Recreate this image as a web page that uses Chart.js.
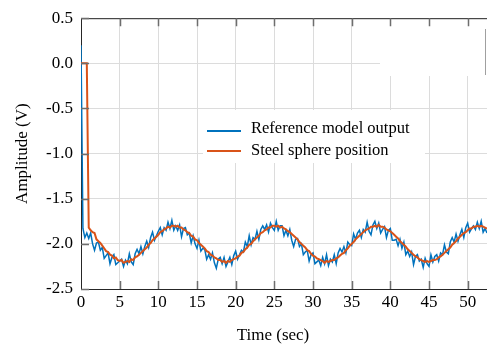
<!DOCTYPE html>
<html>
<head>
<meta charset="utf-8">
<script src="https://cdn.jsdelivr.net/npm/chart.js@4"></script>
<style>
  body { margin: 0; background: #fff; }
  canvas { display: block; }
</style>
</head>
<body>
<canvas id="grafica" width="487" height="348"></canvas>
<script>
// datos (muestreo cada 0.25 s)
const sampleStep = 0.25;
const seriesNames = ['Reference model output', 'Steel sphere position'];
const seriesColors = ['#0072BD', '#D95319'];
const xTicks = [0, 5, 10, 15, 20, 25, 30, 35, 40, 45, 50];
const yTicks = [-2.5, -2.0, -1.5, -1.0, -0.5, 0.0, 0.5];

const referenceOutput = [
  0.20, -1.83, -1.93, -1.88,
  -1.94, -1.88, -2.00, -2.07,
  -1.99, -1.98, -2.07, -2.04,
  -2.16, -2.13, -2.10, -2.22,
  -2.15, -2.12, -2.23, -2.21,
  -2.19, -2.17, -2.25, -2.18,
  -2.22, -2.11, -2.20, -2.23,
  -2.11, -2.06, -2.11, -2.03,
  -2.11, -2.03, -1.97, -2.04,
  -1.93, -1.87, -1.96, -1.91,
  -1.86, -1.82, -1.90, -1.82,
  -1.85, -1.76, -1.83, -1.74,
  -1.85, -1.80, -1.85, -1.79,
  -1.92, -1.83, -1.82, -1.90,
  -1.88, -1.99, -1.91, -2.00,
  -2.05, -1.96, -2.08, -2.05,
  -2.06, -2.17, -2.12, -2.17,
  -2.10, -2.21, -2.27, -2.17,
  -2.15, -2.22, -2.15, -2.25,
  -2.20, -2.15, -2.23, -2.13,
  -2.08, -2.17, -2.12, -2.07,
  -2.09, -1.98, -2.03, -1.91,
  -2.01, -1.93, -1.95, -1.86,
  -1.95, -1.84, -1.80, -1.84,
  -1.79, -1.87, -1.77, -1.82,
  -1.85, -1.75, -1.85, -1.80,
  -1.80, -1.91, -1.85, -1.91,
  -1.84, -1.96, -2.03, -1.95,
  -1.94, -2.03, -2.00, -2.12,
  -2.09, -2.07, -2.19, -2.12,
  -2.10, -2.22, -2.20, -2.18,
  -2.24, -2.15, -2.22, -2.12,
  -2.24, -2.17, -2.20, -2.12,
  -2.22, -2.10, -2.05, -2.09,
  -2.03, -2.10, -1.98, -2.01,
  -2.02, -1.89, -1.95, -1.88,
  -1.85, -1.93, -1.84, -1.87,
  -1.76, -1.86, -1.90, -1.79,
  -1.75, -1.83, -1.77, -1.88,
  -1.84, -1.81, -1.93, -1.85,
  -1.83, -1.96, -1.96, -1.95,
  -2.02, -1.95, -2.05, -1.98,
  -2.12, -2.08, -2.14, -2.09,
  -2.23, -2.14, -2.12, -2.19,
  -2.17, -2.26, -2.16, -2.22,
  -2.25, -2.12, -2.20, -2.14,
  -2.12, -2.19, -2.10, -2.12,
  -2.01, -2.09, -2.11, -1.98,
  -1.93, -1.98, -1.89, -1.97,
  -1.90, -1.84, -1.93, -1.82,
  -1.77, -1.87, -1.83, -1.80,
  -1.84, -1.76, -1.83, -1.75,
  -1.87, -1.83, -1.88
];

const spherePosition = [
  0.00, 0.00, 0.00, 0.00,
  -1.82, -1.85, -1.87, -1.88,
  -1.95, -1.97, -1.99, -2.02,
  -2.05, -2.08, -2.09, -2.12,
  -2.13, -2.16, -2.15, -2.18,
  -2.19, -2.18, -2.21, -2.20,
  -2.19, -2.20, -2.17, -2.18,
  -2.15, -2.14, -2.12, -2.10,
  -2.08, -2.06, -2.04, -2.01,
  -1.99, -1.96, -1.94, -1.92,
  -1.90, -1.87, -1.86, -1.84,
  -1.83, -1.81, -1.82, -1.80,
  -1.80, -1.81, -1.80, -1.82,
  -1.82, -1.84, -1.85, -1.87,
  -1.88, -1.91, -1.92, -1.95,
  -1.96, -1.99, -2.01, -2.03,
  -2.05, -2.08, -2.09, -2.12,
  -2.13, -2.15, -2.16, -2.18,
  -2.18, -2.20, -2.19, -2.21,
  -2.19, -2.20, -2.18, -2.17,
  -2.16, -2.14, -2.13, -2.10,
  -2.09, -2.06, -2.04, -2.01,
  -2.00, -1.97, -1.95, -1.93,
  -1.91, -1.88, -1.87, -1.85,
  -1.84, -1.82, -1.82, -1.80,
  -1.80, -1.81, -1.80, -1.82,
  -1.81, -1.83, -1.84, -1.86,
  -1.87, -1.89, -1.91, -1.93,
  -1.95, -1.98, -2.00, -2.02,
  -2.04, -2.07, -2.08, -2.11,
  -2.13, -2.14, -2.16, -2.17,
  -2.18, -2.19, -2.21, -2.19,
  -2.20, -2.19, -2.18, -2.18,
  -2.16, -2.15, -2.13, -2.11,
  -2.10, -2.07, -2.05, -2.02,
  -2.00, -1.98, -1.95, -1.93,
  -1.91, -1.89, -1.87, -1.85,
  -1.84, -1.83, -1.81, -1.81,
  -1.80, -1.81, -1.79, -1.81,
  -1.81, -1.82, -1.84, -1.85,
  -1.86, -1.88, -1.90, -1.92,
  -1.94, -1.97, -1.99, -2.01,
  -2.03, -2.06, -2.08, -2.10,
  -2.12, -2.14, -2.15, -2.17,
  -2.18, -2.19, -2.20, -2.19,
  -2.20, -2.19, -2.18, -2.18,
  -2.17, -2.15, -2.14, -2.12,
  -2.10, -2.08, -2.06, -2.04,
  -2.01, -1.99, -1.97, -1.94,
  -1.92, -1.90, -1.88, -1.87,
  -1.85, -1.83, -1.83, -1.81,
  -1.81, -1.80, -1.81, -1.80,
  -1.81, -1.82, -1.83
];

const FONT = '"Liberation Serif", "Times New Roman", serif';
const toPoints = vals => vals.map((v, i) => ({ x: i * sampleStep, y: v }));

// marcas internas, borde superior, leyenda y título del eje x
const decoraciones = {
  id: 'decoraciones',
  afterDatasetsDraw(chart) {
    const { ctx, chartArea: a, scales: { x, y } } = chart;
    ctx.save();

    // zona blanca arriba a la derecha
    ctx.fillStyle = '#fff';
    ctx.fillRect(380, a.top + 1, a.right - 380, 75 - a.top);
    ctx.strokeStyle = '#a0a0a0';
    ctx.lineWidth = 1;
    ctx.beginPath();
    ctx.moveTo(485.5, 29); ctx.lineTo(485.5, 75);
    ctx.stroke();

    // caja de la leyenda
    ctx.fillStyle = '#fff';
    ctx.fillRect(203, 110, 222, 53);

    // borde superior
    ctx.strokeStyle = '#262626';
    ctx.lineWidth = 1;
    ctx.beginPath();
    ctx.moveTo(a.left, a.top + 0.5); ctx.lineTo(a.right, a.top + 0.5);
    ctx.stroke();

    // marcas
    ctx.strokeStyle = '#6e6e6e';
    ctx.lineWidth = 1.5;
    ctx.beginPath();
    xTicks.forEach(v => {
      if (v === 0) return;
      const px = Math.round(x.getPixelForValue(v)) + 0.5;
      ctx.moveTo(px, a.top); ctx.lineTo(px, a.top + 8);
      ctx.moveTo(px, a.bottom); ctx.lineTo(px, a.bottom - 8);
    });
    yTicks.forEach(v => {
      const py = Math.round(y.getPixelForValue(v)) + 0.5;
      ctx.moveTo(a.left, py); ctx.lineTo(a.left + 8, py);
    });
    ctx.stroke();

    // leyenda
    ctx.font = '16.5px ' + FONT;
    ctx.textBaseline = 'alphabetic';
    ctx.textAlign = 'left';
    const rows = [{ ly: 131, ty: 133 }, { ly: 151, ty: 155 }];
    seriesNames.forEach((name, i) => {
      ctx.strokeStyle = seriesColors[i];
      ctx.lineWidth = 2;
      ctx.beginPath();
      ctx.moveTo(207, rows[i].ly); ctx.lineTo(241, rows[i].ly);
      ctx.stroke();
      ctx.fillStyle = '#000';
      ctx.fillText(name, 251, rows[i].ty);
    });

    // título eje x
    ctx.font = '17px ' + FONT;
    ctx.textAlign = 'center';
    ctx.textBaseline = 'middle';
    ctx.fillText('Time (sec)', 273, 336);
    ctx.restore();
  }
};

new Chart(document.getElementById('grafica').getContext('2d'), {
  type: 'line',
  data: {
    datasets: [
      {
        label: seriesNames[0],
        data: toPoints(referenceOutput),
        borderColor: seriesColors[0],
        borderWidth: 1.5,
        pointRadius: 0,
        tension: 0,
        order: 2
      },
      {
        label: seriesNames[1],
        data: toPoints(spherePosition),
        borderColor: seriesColors[1],
        borderWidth: 2,
        pointRadius: 0,
        tension: 0,
        order: 1
      }
    ]
  },
  options: {
    responsive: false,
    animation: false,
    layout: { padding: { top: 18, right: 0, left: 0, bottom: 0 } },
    plugins: { legend: { display: false }, tooltip: { enabled: false } },
    scales: {
      x: {
        type: 'linear',
        min: 0,
        max: 52.5,
        afterBuildTicks: s => { s.ticks = xTicks.map(v => ({ value: v })); },
        afterFit: s => { s.height = 59; },
        grid: { color: '#dcdcdc', drawTicks: false },
        border: { display: true, color: '#262626', width: 1 },
        ticks: { color: '#000', padding: 3, maxRotation: 0, font: { family: FONT, size: 17 } }
      },
      y: {
        type: 'linear',
        min: -2.5,
        max: 0.5,
        afterBuildTicks: s => { s.ticks = yTicks.map(v => ({ value: v })); },
        afterFit: s => { s.width = 81; },
        grid: { color: '#dcdcdc', drawTicks: false },
        border: { display: true, color: '#262626', width: 1 },
        ticks: {
          color: '#000',
          padding: 8,
          font: { family: FONT, size: 17 },
          callback: v => v.toFixed(1)
        },
        title: {
          display: true,
          text: 'Amplitude (V)',
          color: '#000',
          padding: { top: 12, bottom: 0 },
          font: { family: FONT, size: 17 }
        }
      }
    }
  },
  plugins: [decoraciones]
});
</script>
</body>
</html>
